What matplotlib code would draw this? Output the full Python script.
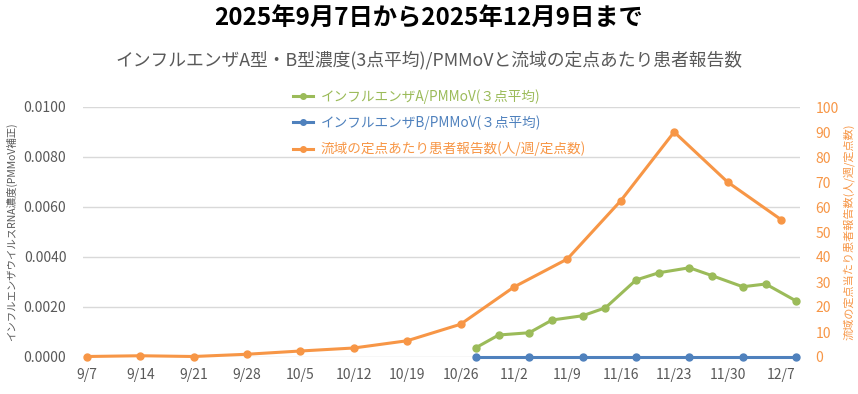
import matplotlib
matplotlib.use('Agg')
import matplotlib.pyplot as plt
import pandas as pd
from matplotlib.lines import Line2D

plt.rcParams['font.family'] = ['Noto Sans CJK JP', 'DejaVu Sans']

# ---- data ----
report_dates = ['2025-09-07', '2025-09-14', '2025-09-21', '2025-09-28', '2025-10-05',
                '2025-10-12', '2025-10-19', '2025-10-26', '2025-11-02', '2025-11-09',
                '2025-11-16', '2025-11-23', '2025-11-30', '2025-12-07']
patients = [0.2, 0.5, 0.2, 1.1, 2.4, 3.6, 6.5, 13.1, 28.0, 39.2, 62.5, 90.0, 70.0, 55.0]

flu_a_dates = ['2025-10-28', '2025-10-31', '2025-11-04', '2025-11-07', '2025-11-11',
               '2025-11-14', '2025-11-18', '2025-11-21', '2025-11-25', '2025-11-28',
               '2025-12-02', '2025-12-05', '2025-12-09']
flu_a = [0.00037, 0.00088, 0.00097, 0.00148, 0.00165, 0.00197, 0.00308,
         0.00337, 0.00357, 0.00325, 0.00281, 0.00292, 0.00224]

flu_b_dates = ['2025-10-28', '2025-11-04', '2025-11-11', '2025-11-18',
               '2025-11-25', '2025-12-02', '2025-12-09']
flu_b = [0.0, 0.0, 0.0, 0.0, 0.0, 0.0, 0.0]

tick_labels = ['9/7', '9/14', '9/21', '9/28', '10/5', '10/12', '10/19', '10/26',
               '11/2', '11/9', '11/16', '11/23', '11/30', '12/7']
left_ticks = [0.0, 0.002, 0.004, 0.006, 0.008, 0.010]
right_ticks = [0, 10, 20, 30, 40, 50, 60, 70, 80, 90, 100]

title = '2025年9月7日から2025年12月9日まで'
subtitle = 'インフルエンザA型・B型濃度(3点平均)/PMMoVと流域の定点あたり患者報告数'
label_a = 'インフルエンザA/PMMoV(３点平均)'
label_b = 'インフルエンザB/PMMoV(３点平均)'
label_p = '流域の定点あたり患者報告数(人/週/定点数)'
ylabel_left = 'インフルエンザウイルスRNA濃度(PMMoV補正)'
ylabel_right = '流域の定点当たり患者報告数(人/週/定点数)'

# ---- styles ----
GREEN = '#9BBB59'
BLUE = '#4F81BD'
ORANGE = '#F79646'
GRAY = '#595959'
GRID = '#D9D9D9'

rd = pd.to_datetime(report_dates)
ad = pd.to_datetime(flu_a_dates)
bd = pd.to_datetime(flu_b_dates)

fig = plt.figure(figsize=(8.58, 3.94), dpi=100)
ax = fig.add_axes([83/858, 1-357/394, (800-83)/858, 250/394])
ax2 = ax.twinx()

ax.plot(ad, flu_a, color=GREEN, lw=2.2, marker='o', ms=5, zorder=3)
ax.plot(bd, flu_b, color=BLUE, lw=2.2, marker='o', ms=5, zorder=3, clip_on=False)
ax2.plot(rd, patients, color=ORANGE, lw=2.2, marker='o', ms=5, zorder=3, clip_on=False)

ax.set_ylim(0, 0.01)
ax2.set_ylim(0, 100)
ax.set_yticks(left_ticks)
ax.set_yticklabels([f'{v:.4f}' for v in left_ticks])
ax2.set_yticks(right_ticks)
ax2.set_yticklabels([str(v) for v in right_ticks])

xmin = pd.Timestamp('2025-09-07') - pd.Timedelta(hours=12)
xmax = pd.Timestamp('2025-12-09') + pd.Timedelta(hours=12)
ax.set_xlim(xmin, xmax)
ax.set_xticks(rd)
ax.set_xticklabels(tick_labels)

for a in (ax, ax2):
    for s in a.spines.values():
        s.set_visible(False)
ax.grid(axis='y', color=GRID, lw=1)
ax.set_axisbelow(True)

ax.tick_params(axis='y', length=0, pad=12, labelsize=10, labelcolor=GRAY)
ax.tick_params(axis='x', length=0, pad=8, labelsize=10, labelcolor=GRAY)
ax2.tick_params(axis='y', length=0, pad=11, labelsize=10, labelcolor=ORANGE)

ax.set_ylabel(ylabel_left, fontsize=7.5, color=GRAY, labelpad=5)
ax2.set_ylabel(ylabel_right, fontsize=8, color=ORANGE, labelpad=3)

fig.text(0.5, 1-18/394, title, ha='center', va='center', fontsize=17.5,
         fontweight='bold', color='black')
fig.text(0.5, 1-60/394, subtitle, ha='center', va='center', fontsize=12.8,
         color=GRAY)

handles = [Line2D([], [], color=GREEN, lw=2.2, marker='o', ms=4),
           Line2D([], [], color=BLUE, lw=2.2, marker='o', ms=4),
           Line2D([], [], color=ORANGE, lw=2.2, marker='o', ms=4)]
leg = fig.legend(handles, [label_a, label_b, label_p], loc='upper left',
                 bbox_to_anchor=(293/858, 1-89/394), frameon=False, fontsize=9.8,
                 handlelength=1.45, handletextpad=0.6, labelspacing=0.85,
                 borderpad=0, borderaxespad=0)
for t, c in zip(leg.get_texts(), [GREEN, BLUE, ORANGE]):
    t.set_color(c)

fig.savefig('out.png', dpi=100)
